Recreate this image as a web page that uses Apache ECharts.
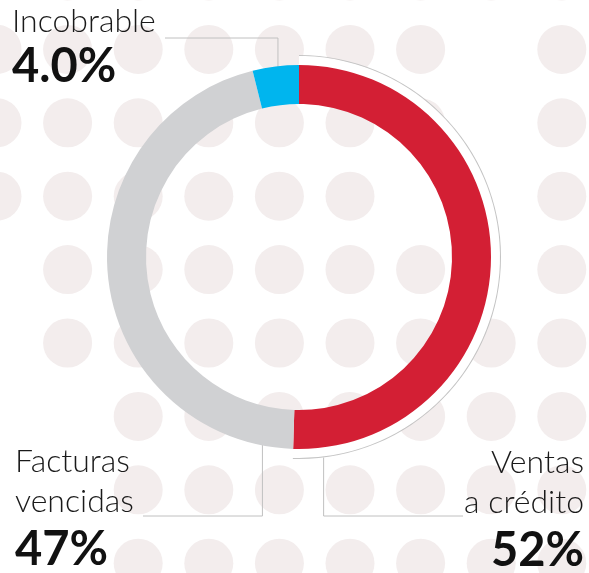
<!DOCTYPE html>
<html>
<head>
<meta charset="utf-8">
<script src="https://cdn.jsdelivr.net/npm/echarts@6/dist/echarts.min.js"></script>
<style>
  html, body { margin: 0; padding: 0; background: #fff; }
  #chart-container { width: 589px; height: 573px; }
</style>
</head>
<body>
<div id="chart-container"></div>
<script>
var categories = ['Ventas\na crédito', 'Facturas\nvencidas', 'Incobrable'];
var values = [52, 47, 4];
var valueLabels = ['52%', '47%', '4.0%'];
var colors = ['#d31f34', '#d0d1d3', '#00b5ee'];

// background dot pattern, one string per row, x = dot, . = gap
var dotPattern = [
  '.xxxxxxxx',
  'xxxxxxx.x',
  'xxxxxxx.x',
  'xxxxxx..x',
  '.xxxxxx.x',
  '.xxxxxxxx',
  '..xxxxxxx',
  '..xxxxxxx',
  '..xxxxxxx'
];

var dom = document.getElementById('chart-container');
var myChart = echarts.init(dom, null, { renderer: 'canvas' });

var cx = 299, cy = 257;
function polar(deg, r) {
  var a = deg * Math.PI / 180;
  return [cx + r * Math.sin(a), cy - r * Math.cos(a)];
}

var total = values.reduce(function (s, v) { return s + v; }, 0);
var starts = [];
var acc = 0;
values.forEach(function (v) { starts.push(acc / total * 360); acc += v; });

var dots = [];
dotPattern.forEach(function (row, j) {
  for (var i = 0; i < row.length; i++) {
    if (row[i] === 'x') dots.push([i, j]);
  }
});

// dot grid: column step 70.6px starting at x=-3, row step 73.4px starting at y=-24
var colStep = 70.6, rowStep = 73.4;

var font = 'Lato, "Open Sans", sans-serif';

function labelLayout(params) {
  var i = params.dataIndex;
  if (i === 2) {
    var mid = starts[2] + values[2] / total * 180;
    var p = polar(mid, 173);
    return {
      x: 12, y: 2, align: 'left', verticalAlign: 'top',
      labelLinePoints: [p, [p[0], 38], [165, 38]]
    };
  }
  if (i === 1) {
    var q = polar(192, 176);
    return {
      x: 15, y: 442, align: 'left', verticalAlign: 'top',
      labelLinePoints: [q, [q[0], 516], [143, 516]]
    };
  }
  var r = polar(173, 202);
  return {
    x: 584, y: 443, align: 'right', verticalAlign: 'top',
    labelLinePoints: [r, [r[0], 516], [463, 516]]
  };
}

var option = {
  backgroundColor: '#fff',
  animation: false,
  grid: { left: 0, top: 0, right: 0, bottom: 0 },
  xAxis: { type: 'value', min: 3 / colStep, max: 592 / colStep, show: false },
  yAxis: { type: 'value', min: 24 / rowStep, max: 597 / rowStep, inverse: true, show: false },
  series: [
    {
      type: 'scatter',
      silent: true,
      clip: false,
      z: 1,
      symbolSize: 49,
      itemStyle: { color: '#f3eded', opacity: 1 },
      data: dots
    },
    {
      // white band + thin rim around the red slice
      type: 'pie',
      silent: true,
      z: 2,
      center: [cx, cy],
      radius: [191, 201],
      startAngle: 90,
      label: { show: false },
      labelLine: { show: false },
      data: values.map(function (v, i) {
        return { value: v, itemStyle: { color: i === 0 ? '#fff' : 'transparent' } };
      })
    },
    {
      type: 'pie',
      silent: true,
      z: 2,
      center: [cx, cy],
      radius: [201, 202],
      startAngle: 90,
      label: { show: false },
      labelLine: { show: false },
      data: values.map(function (v, i) {
        return { value: v, itemStyle: { color: i === 0 ? '#c4c4c4' : 'transparent' } };
      })
    },
    {
      type: 'pie',
      z: 3,
      center: [cx, cy],
      radius: [153, 192],
      startAngle: 90,
      avoidLabelOverlap: false,
      itemStyle: { borderWidth: 0 },
      label: {
        show: true,
        position: 'outside',
        formatter: function (p) {
          var lines = categories[p.dataIndex].split('\n').map(function (s) {
            return '{n|' + s + '}';
          });
          var key = p.dataIndex === 2 ? 'v' : 'w';
          return lines.join('\n') + '\n{' + key + '|' + valueLabels[p.dataIndex] + '}';
        },
        rich: {
          n: { fontFamily: font, fontWeight: 300, fontSize: 32, lineHeight: 40, color: '#1a1a1a' },
          v: { fontFamily: font, fontWeight: 'bold', fontSize: 47, lineHeight: 50, color: '#111' },
          w: { fontFamily: font, fontWeight: 'bold', fontSize: 47, lineHeight: 56, color: '#111' }
        }
      },
      labelLine: {
        show: true,
        lineStyle: { color: '#c0c0c0', width: 1 }
      },
      labelLayout: labelLayout,
      data: categories.map(function (c, i) {
        return { name: c, value: values[i], itemStyle: { color: colors[i] } };
      })
    }
  ]
};

myChart.setOption(option);
window.addEventListener('resize', myChart.resize);
</script>
</body>
</html>
